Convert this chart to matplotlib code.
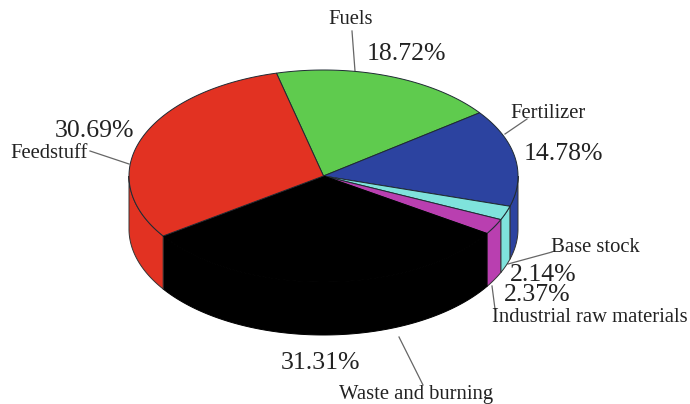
import numpy as np
import matplotlib
matplotlib.use("Agg")
import matplotlib.pyplot as plt
from matplotlib.patches import Polygon

categories = ["Fuels", "Fertilizer", "Base stock", "Industrial raw materials", "Waste and burning", "Feedstuff"]
shares = [18.72, 14.78, 2.14, 2.37, 31.31, 30.69]
percent_labels = ["18.72%", "14.78%", "2.14%", "2.37%", "31.31%", "30.69%"]
colors = ["#5fcb4e", "#2c43a0", "#7fe3dc", "#b93fb0", "#000000", "#e23222"]

W, H = 690, 404
CX, CY, RX, RY, DEPTH = 323.5, 176, 194.5, 106, 53
START = 104
EDGE = "#333333"

fig = plt.figure(figsize=(W / 100, H / 100), dpi=100)
ax = fig.add_axes([0, 0, 1, 1])
ax.set_xlim(0, W)
ax.set_ylim(H, 0)
ax.axis("off")
plt.rcParams["font.family"] = "Liberation Serif"


def arc(a0, a1, dy=0):
    t = np.radians(np.linspace(a0, a1, 160))
    return np.column_stack([CX + RX * np.cos(t), CY - RY * np.sin(t) + dy])


total = sum(shares)
edges = START - np.concatenate([[0], np.cumsum(shares)]) * 360 / total

# side walls (visible only on the front half of the ellipse)
for i, c in enumerate(colors):
    a0, a1 = edges[i], edges[i + 1]
    for shift in (0, 360):
        s0, s1 = a0 + shift, a1 + shift
        u0, u1 = min(s0, 0), max(s1, -180)
        if u0 > u1:
            top = arc(u0, u1)
            bot = arc(u1, u0, DEPTH)
            ec = "#000000" if c == "#000000" else EDGE
            ax.add_patch(Polygon(np.vstack([top, bot]), closed=True, fc=c, ec=ec, lw=0.7, zorder=2))

# top face
for i, c in enumerate(colors):
    pts = np.vstack([[CX, CY], arc(edges[i], edges[i + 1])])
    ax.add_patch(Polygon(pts, closed=True, fc=c, ec="#1f2a33" if c != "#000000" else "#000000", lw=0.7, zorder=3))

# leader lines
leaders = [
    ((352, 31), (355, 71)),
    ((527, 119), (505, 134)),
    ((552, 252), (508, 264)),
    ((492, 286), (495, 309)),
    ((399, 337), (423, 385)),
    ((90, 151), (129, 164)),
]
for (x0, y0), (x1, y1) in leaders:
    ax.plot([x0, x1], [y0, y1], color="#666666", lw=0.9, zorder=1)

name_pos = [(351, 19), (548, 113), (595, 248), (589.5, 318), (416, 394.5), (49, 154)]
pct_pos = [(406, 54), (563, 154), (543, 275), (537, 295), (320, 363), (95, 131)]
for name, p in zip(categories, name_pos):
    ax.text(p[0], p[1], name, fontsize=14.9, color="#222222", ha="center", va="center")
for lab, p in zip(percent_labels, pct_pos):
    ax.text(p[0], p[1], lab, fontsize=18.5, color="#222222", ha="center", va="center")

fig.savefig("out.png", dpi=100)
